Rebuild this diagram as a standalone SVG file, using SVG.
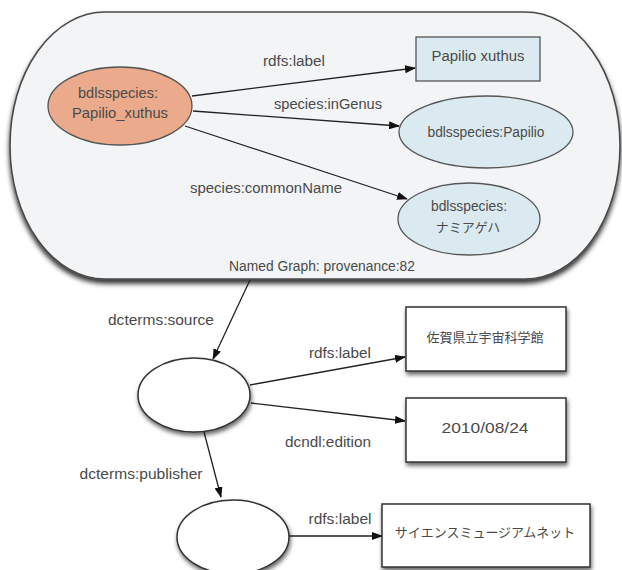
<svg xmlns="http://www.w3.org/2000/svg" width="622" height="570" viewBox="0 0 622 570">
<defs>
<filter id="sh" x="-20%" y="-20%" width="140%" height="160%">
<feDropShadow dx="1" dy="3" stdDeviation="2" flood-color="#000" flood-opacity="0.6"/>
</filter>
<filter id="shbig" x="-10%" y="-10%" width="120%" height="125%">
<feDropShadow dx="0" dy="4" stdDeviation="2.5" flood-color="#000" flood-opacity="0.8"/>
</filter>
<marker id="arr" markerUnits="userSpaceOnUse" markerWidth="11" markerHeight="8" refX="10" refY="4" orient="auto">
<path d="M0,0 L11,4 L0,8 z" fill="#111"/>
</marker>
</defs>
<style>
text{font-family:"Liberation Sans","Noto Sans CJK JP",sans-serif;font-size:14px;fill:#4a4a4a;text-anchor:middle}
.cjk{font-family:"Noto Sans CJK JP",sans-serif;font-size:13px}
.edge{stroke:#222;stroke-width:1.3;fill:none;marker-end:url(#arr)}
.blue{fill:#dbeaf0;stroke:#555;stroke-width:1.3}
.white{fill:#fff;stroke:#333;stroke-width:1.5;filter:url(#sh)}
</style>
<rect width="622" height="570" fill="#fff"/>
<g id="graph">
<rect x="10" y="12" width="610" height="267" rx="95" ry="133" fill="#f2f4f6" stroke="#4a4a4a" stroke-width="1.6" filter="url(#shbig)"/>
<text x="322" y="271" textLength="186" lengthAdjust="spacingAndGlyphs">Named Graph: provenance:82</text>
</g>
<g id="connectors">
<path class="edge" d="M192,96 L415,68"/>
<path class="edge" d="M193,111 L399,126"/>
<path class="edge" d="M185,126 L407,199"/>
<path class="edge" d="M250,280 L213,359"/>
<path class="edge" d="M250,385 L405,357"/>
<path class="edge" d="M251,403 L405,421"/>
<path class="edge" d="M204,432 L221,497"/>
<path class="edge" d="M289,536 L382,536"/>
<text x="294" y="66" textLength="62" lengthAdjust="spacingAndGlyphs">rdfs:label</text>
<text x="328" y="109" textLength="108" lengthAdjust="spacingAndGlyphs">species:inGenus</text>
<text x="266" y="193" textLength="152" lengthAdjust="spacingAndGlyphs">species:commonName</text>
<text x="161" y="325" textLength="106" lengthAdjust="spacingAndGlyphs">dcterms:source</text>
<text x="340" y="358" textLength="62" lengthAdjust="spacingAndGlyphs">rdfs:label</text>
<text x="328" y="447" textLength="86" lengthAdjust="spacingAndGlyphs">dcndl:edition</text>
<text x="141" y="479" textLength="123" lengthAdjust="spacingAndGlyphs">dcterms:publisher</text>
<text x="340" y="524" textLength="63" lengthAdjust="spacingAndGlyphs">rdfs:label</text>
</g>
<g id="papilio_xuthus">
<ellipse cx="120" cy="106" rx="72" ry="39" fill="#eaaa8b" stroke="#555" stroke-width="1.3"/>
<text x="118" y="98" textLength="80" lengthAdjust="spacingAndGlyphs">bdlsspecies:</text>
<text x="120" y="118" textLength="96" lengthAdjust="spacingAndGlyphs">Papilio_xuthus</text>
</g>
<g id="label_papilio">
<rect x="416" y="37" width="124" height="44" class="blue"/>
<text x="478" y="61" textLength="93" lengthAdjust="spacingAndGlyphs">Papilio xuthus</text>
</g>
<g id="genus_papilio">
<ellipse cx="486" cy="132" rx="87" ry="36" class="blue"/>
<text x="486" y="137" textLength="117" lengthAdjust="spacingAndGlyphs">bdlsspecies:Papilio</text>
</g>
<g id="namiageha">
<ellipse cx="469" cy="219" rx="71" ry="36" class="blue"/>
<text x="469" y="211" textLength="76" lengthAdjust="spacingAndGlyphs">bdlsspecies:</text>
<text x="468" y="232" class="cjk">ナミアゲハ</text>
</g>
<g id="source">
<ellipse cx="194" cy="395" rx="56" ry="37" class="white"/>
</g>
<g id="source_label">
<rect x="406" y="307" width="160" height="64" class="white"/>
<text x="485" y="342" class="cjk" font-size="13.5">佐賀県立宇宙科学館</text>
</g>
<g id="edition">
<rect x="406" y="398" width="160" height="64" class="white"/>
<text x="485" y="433" textLength="87" lengthAdjust="spacingAndGlyphs">2010/08/24</text>
</g>
<g id="publisher">
<ellipse cx="233" cy="537" rx="56" ry="37" class="white"/>
</g>
<g id="publisher_label">
<rect x="382" y="504" width="208" height="63" class="white"/>
<text x="485" y="537" class="cjk">サイエンスミュージアムネット</text>
</g>
</svg>
